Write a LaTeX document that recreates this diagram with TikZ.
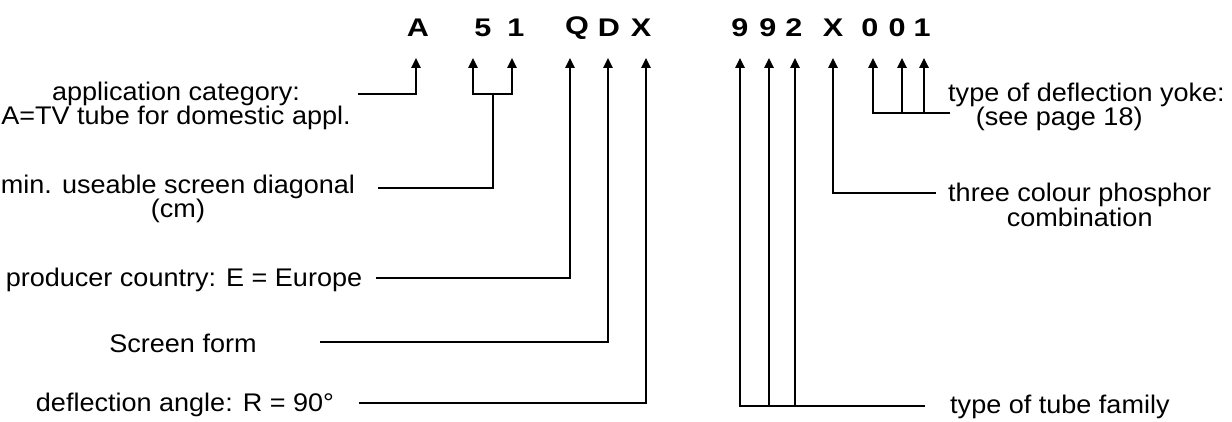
\documentclass[tikz,border=0pt]{standalone}
\usepackage{fontspec}
\setmainfont{Liberation Sans}
\usetikzlibrary{arrows.meta}

\begin{document}
\begin{tikzpicture}[x=1pt,y=-1pt,>={Triangle[length=10pt,width=9.5pt]},
  code/.style={font=\fontsize{25.5}{28}\selectfont\bfseries,xscale=1.2,inner sep=0pt},
  lbl/.style={font=\fontsize{25.5}{23}\selectfont,xscale=1.06,align=center,inner sep=0pt},
  wire/.style={line width=1.7pt}]
  \useasboundingbox (0,0) rectangle (1232,422);

  \node[code] (cA) at (418,28) {A};
  \node[code] (c5) at (483,28) {5};
  \node[code] (c1) at (516,28) {1};
  \node[code] (cQ) at (577,28) {Q};
  \node[code] (cD) at (609,28) {D};
  \node[code] (cX) at (641,28) {X};
  \node[code] (c9a) at (740,28) {9};
  \node[code] (c9b) at (768,28) {9};
  \node[code] (c2) at (794,28) {2};
  \node[code] (cX2) at (833,28) {X};
  \node[code] (c0a) at (870,28) {0};
  \node[code] (c0b) at (897,28) {0};
  \node[code] (c1b) at (922,28) {1};

  \node[lbl] (appl) at (176,106) {application category:\\A=TV tube for domestic appl.};
  \node[lbl] (diag) at (178,199) {min. useable screen diagonal\\(cm)};
  \node[lbl] (prod) at (184,280) {producer country: E = Europe};
  \node[lbl] (form) at (183,343) {Screen form};
  \node[lbl] (defl) at (185,405) {deflection angle: R = 90\textdegree};
  \node[lbl,anchor=west,align=left] (yoke) at (948,107) {type of deflection yoke:\\\hspace*{26pt}(see page 18)};
  \node[lbl,anchor=west] (phos) at (948,205) {three colour phosphor\\combination};
  \node[lbl,anchor=west] (fam) at (950,407) {type of tube family};

  \coordinate (tA) at (416,58);
  \coordinate (t5) at (473,58);
  \coordinate (t1) at (512,58);
  \coordinate (tQ) at (570,58);
  \coordinate (tD) at (608,58);
  \coordinate (tX) at (646,58);
  \coordinate (t9a) at (740,58);
  \coordinate (t9b) at (769,58);
  \coordinate (t2) at (795,58);
  \coordinate (tX2) at (833,58);
  \coordinate (t0a) at (873,58);
  \coordinate (t0b) at (902,58);
  \coordinate (t1b) at (924,58);

  \coordinate (sA) at (358,94);
  \coordinate (sD) at (378,188);
  \coordinate (jD) at (493,94);
  \coordinate (sQ) at (376,278);
  \coordinate (sF) at (320,342);
  \coordinate (sX) at (359,403);
  \coordinate (sT) at (925,406);
  \coordinate (sP) at (936,193);
  \coordinate (sY) at (950,113);

  \draw[wire,->] (sA) -| (tA);
  \draw[wire] (sD) -| (jD);
  \draw[wire,->] (jD) -| (t5);
  \draw[wire,->] (jD) -| (t1);
  \draw[wire,->] (sQ) -| (tQ);
  \draw[wire,->] (sF) -| (tD);
  \draw[wire,->] (sX) -| (tX);
  \draw[wire,->] (sT) -| (t9a);
  \draw[wire,->] (t9b |- sT) -- (t9b);
  \draw[wire,->] (t2 |- sT) -- (t2);
  \draw[wire,->] (sP) -| (tX2);
  \draw[wire,->] (sY) -| (t0a);
  \draw[wire,->] (t0b |- sY) -- (t0b);
  \draw[wire,->] (t1b |- sY) -- (t1b);
\end{tikzpicture}
\end{document}
